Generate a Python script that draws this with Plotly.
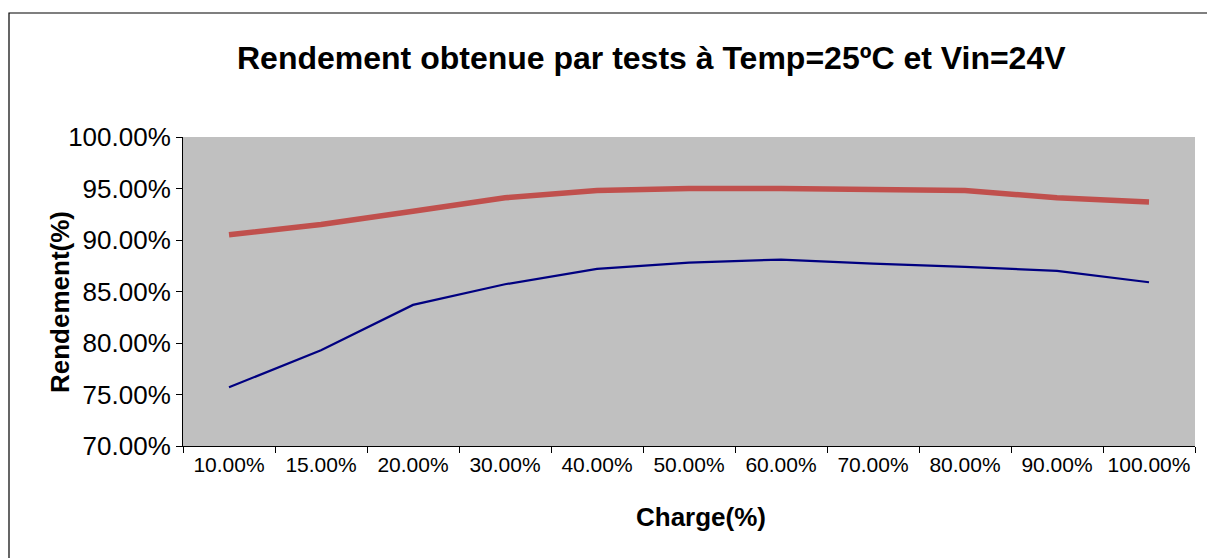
import plotly.graph_objects as go

categories = ["10.00%", "15.00%", "20.00%", "30.00%", "40.00%", "50.00%",
              "60.00%", "70.00%", "80.00%", "90.00%", "100.00%"]
rendement_rouge = [0.905, 0.915, 0.928, 0.941, 0.948, 0.950, 0.950, 0.949, 0.948, 0.941, 0.937]
rendement_bleu = [0.757, 0.793, 0.837, 0.857, 0.872, 0.878, 0.881, 0.877, 0.874, 0.870, 0.859]
y_ticks = [0.70, 0.75, 0.80, 0.85, 0.90, 0.95, 1.00]
y_tick_labels = ["70.00%", "75.00%", "80.00%", "85.00%", "90.00%", "95.00%", "100.00%"]

W, H = 1207, 558
L, R, T, B = 183, 12, 137, 112
pw = W - L - R
ph = H - T - B

def px_x(px):
    return (px - L) / pw

def px_y(py):
    return (H - B - py) / ph

FONT = "Liberation Sans, Arial, Helvetica, sans-serif"

fig = go.Figure()
fig.add_trace(go.Scatter(x=categories, y=rendement_bleu, mode="lines",
                         line=dict(color="#000080", width=2.2), showlegend=False))
fig.add_trace(go.Scatter(x=categories, y=rendement_rouge, mode="lines",
                         line=dict(color="#C0504D", width=5.5), showlegend=False))

fig.update_layout(
    width=W, height=H,
    margin=dict(l=L, r=R, t=T, b=B),
    paper_bgcolor="white",
    plot_bgcolor="#C0C0C0",
    font=dict(family=FONT, color="black"),
    showlegend=False,
)
fig.update_xaxes(
    type="category", range=[-0.5, 10.5], tickson="boundaries",
    ticks="outside", ticklen=6, tickcolor="black", tickwidth=1,
    showline=True, linecolor="black", linewidth=1,
    showgrid=False, zeroline=False,
    tickfont=dict(size=21, family=FONT, color="black"),
)
fig.update_yaxes(
    range=[0.70, 1.00], tickvals=y_ticks, ticktext=y_tick_labels,
    ticks="outside", ticklen=6, tickcolor="black", tickwidth=1,
    showline=True, linecolor="black", linewidth=1,
    showgrid=False, zeroline=False,
    tickfont=dict(size=26, family=FONT, color="black"),
)

# Outer chart frame
fig.add_shape(type="rect", xref="paper", yref="paper",
              x0=px_x(9), x1=px_x(1230), y0=px_y(580), y1=px_y(13),
              line=dict(color="black", width=1.2), fillcolor="rgba(0,0,0,0)", layer="below")

fig.add_annotation(text="<b>Rendement obtenue par tests à Temp=25ºC et Vin=24V</b>",
                   xref="paper", yref="paper", x=px_x(651), y=px_y(58),
                   showarrow=False, font=dict(size=32, family=FONT, color="black"),
                   xanchor="center", yanchor="middle")
fig.add_annotation(text="<b>Charge(%)</b>",
                   xref="paper", yref="paper", x=px_x(701), y=px_y(517),
                   showarrow=False, font=dict(size=26, family=FONT, color="black"),
                   xanchor="center", yanchor="middle")
fig.add_annotation(text="<b>Rendement(%)</b>",
                   xref="paper", yref="paper", x=px_x(60), y=px_y(302),
                   showarrow=False, textangle=-90,
                   font=dict(size=26, family=FONT, color="black"),
                   xanchor="center", yanchor="middle")

fig.write_html("out.html", config={"displayModeBar": False},
               post_script="document.body.style.margin='0';document.body.style.overflow='hidden';")
